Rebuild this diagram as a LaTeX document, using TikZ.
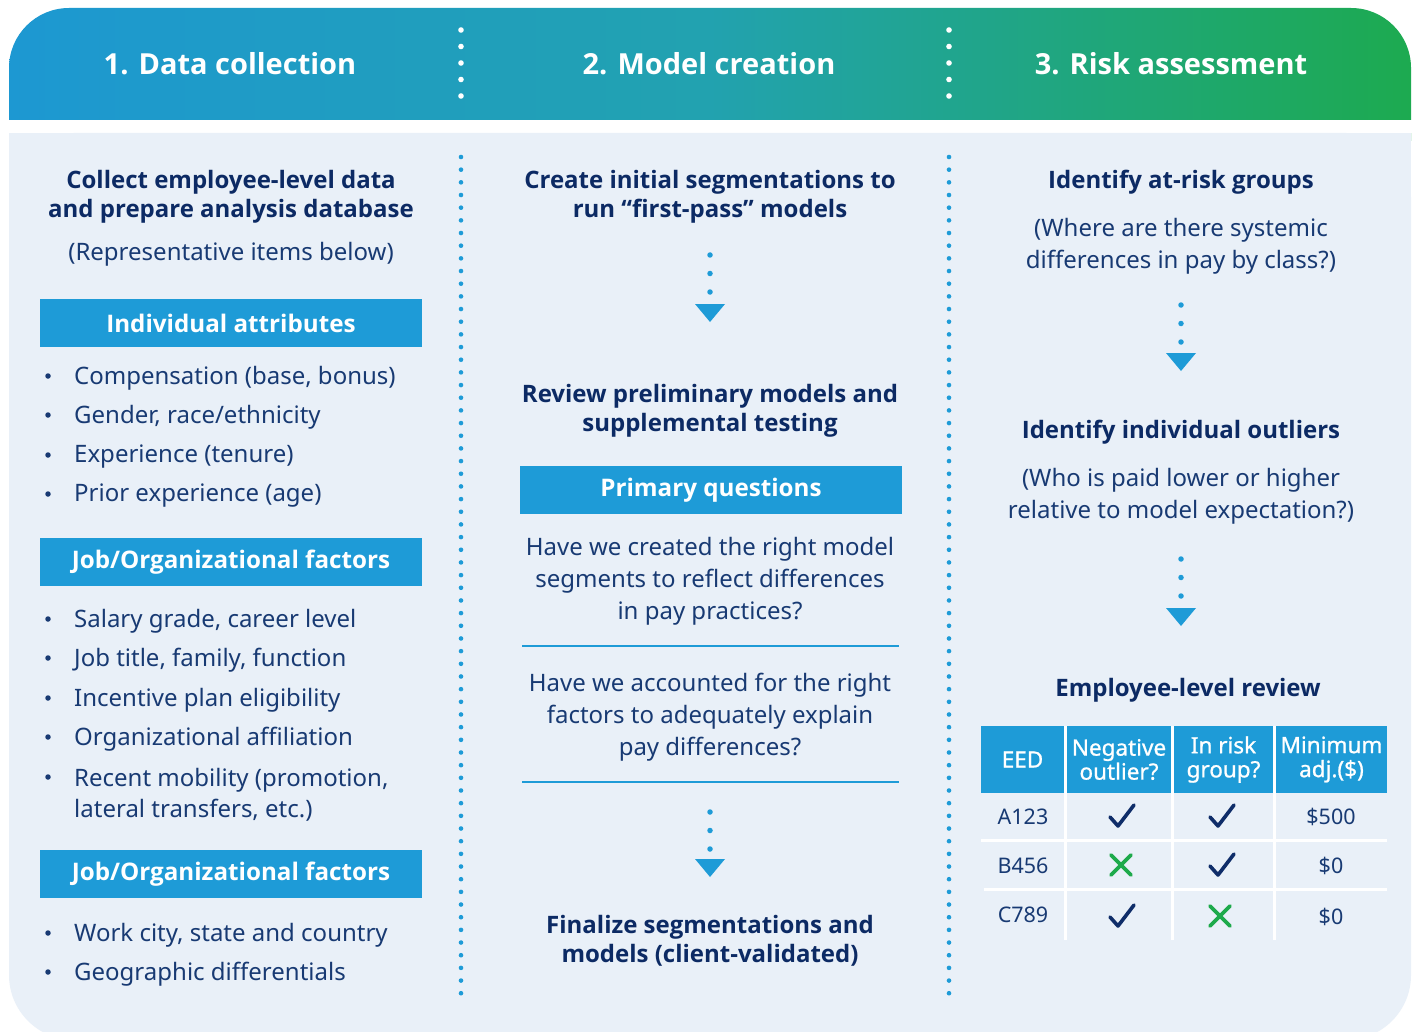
\documentclass[tikz,border=0pt]{standalone}
\usepackage{fontspec}
\setmainfont{Noto Sans}
\newfontfamily\osans{Open Sans}
\newfontfamily\semib[FakeBold=0.9]{Noto Sans}
\usetikzlibrary{arrows.meta,calc}
\definecolor{bg}{RGB}{233,240,248}
\definecolor{boxblue}{RGB}{30,155,215}
\definecolor{navy}{RGB}{12,42,100}
\definecolor{txt}{RGB}{24,58,115}
\definecolor{gblue}{RGB}{29,152,210}
\definecolor{gteal}{RGB}{34,162,175}
\definecolor{ggreen}{RGB}{29,170,80}
\definecolor{xgreen}{RGB}{30,170,75}
\definecolor{chk}{RGB}{15,45,105}
\begin{document}
\begin{tikzpicture}[x=1pt,y=-1pt,
  hdr/.style={text=white,font=\osans\bfseries\fontsize{29}{32}\selectfont,inner sep=0},
  ttl/.style={text=navy,font=\osans\bfseries\fontsize{24}{29}\selectfont,align=center,inner sep=0,yshift=-3pt},
  bodytxt/.style={text=txt,font=\fontsize{24}{32}\selectfont,align=center,inner sep=0,yshift=-3pt},
  itemtxt/.style={text=txt,font=\fontsize{24}{31}\selectfont,align=left,anchor=west,inner sep=0,yshift=-2pt},
  bdot/.style={circle,fill=txt,minimum size=5.5,inner sep=0},
  boxhead/.style={fill=boxblue,text=white,font=\osans\bfseries\fontsize{24.2}{26}\selectfont,minimum width=382,minimum height=48,inner sep=0},
  th/.style={fill=boxblue,text=white,font=\semib\fontsize{22.5}{24}\selectfont,align=center,minimum height=67,inner sep=0},
  td/.style={text=txt,font=\fontsize{21.5}{24}\selectfont,inner sep=0,yshift=-1pt},
  dotarrow/.style={boxblue,line width=5.5,line cap=round,dash pattern=on 0pt off 18.5pt,-{Triangle[width=30pt,length=18pt,line width=0pt,round=false]}},
  sepline/.style={boxblue,line width=2},
  tabline/.style={white,line width=3},
  chkmark/.style={chk,line width=3.6,line cap=round,line join=round},
  xmark/.style={xgreen,line width=3.6,line cap=round}
]
\useasboundingbox (0,0) rectangle (1418,1032);
\clip (0,0) rectangle (1418,1032);
\fill[white] (0,0) rectangle (1418,1032);
% header band
\shade[left color=gblue,right color=ggreen,middle color=gteal,rounded corners=60] (9,8) rectangle (1411,200);
\fill[white] (0,120) rectangle (1418,133);
% body
\fill[bg,rounded corners=65] (9,133) rectangle (1411,1040);
\fill[bg] (9,133) rectangle (1411,260);
% header dots
\foreach \xx in {461,949}{
  \foreach \yy in {30,46.5,63,79.5,96} \fill[white] (\xx,\yy) circle (2.8);
  \foreach \k in {0,...,66} \fill[boxblue] (\xx,157+\k*12.67) circle (2.3);
}
\node[hdr] (h1) at (230,64) {1. Data collection};
\node[hdr] (h2) at (709,64) {2. Model creation};
\node[hdr] (h3) at (1171,64) {3. Risk assessment};

% ---------- column 1
\node[ttl] (c1t) at (231,193.5) {Collect employee-level data\\and prepare analysis database};
\node[bodytxt] (c1s) at (231,251) {(Representative items below)};
\node[boxhead] (ia) at (231,323) {Individual attributes};
\node[bdot] (b11) at (48,376) {}; \node[itemtxt] (i11) at (74,376) {Compensation (base, bonus)};
\node[bdot] (b12) at (48,415) {}; \node[itemtxt] (i12) at (74,415) {Gender, race/ethnicity};
\node[bdot] (b13) at (48,455) {}; \node[itemtxt] (i13) at (74,455) {Experience (tenure)};
\node[bdot] (b14) at (48,494) {}; \node[itemtxt] (i14) at (74,494) {Prior experience (age)};
\node[boxhead] (jo1) at (231,562) {Job/Organizational factors};
\node[bdot] (b21) at (48,619) {}; \node[itemtxt] (i21) at (74,619) {Salary grade, career level};
\node[bdot] (b22) at (48,658) {}; \node[itemtxt] (i22) at (74,658) {Job title, family, function};
\node[bdot] (b23) at (48,698) {}; \node[itemtxt] (i23) at (74,698) {Incentive plan eligibility};
\node[bdot] (b24) at (48,737) {}; \node[itemtxt] (i24) at (74,737) {Organizational affiliation};
\node[bdot] (b25) at (48,777) {}; \node[itemtxt] (i25) at (74,792.5) {Recent mobility (promotion,\\lateral transfers, etc.)};
\node[boxhead] (jo2) at (231,874) {Job/Organizational factors};
\node[bdot] (b31) at (48,933) {}; \node[itemtxt] (i31) at (74,933) {Work city, state and country};
\node[bdot] (b32) at (48,972) {}; \node[itemtxt] (i32) at (74,972) {Geographic differentials};

% ---------- column 2
\node[ttl] (c2t) at (710,193.5) {Create initial segmentations to\\run “first-pass” models};
\coordinate (a1s) at (710,255); \coordinate (a1e) at (710,322);
\draw[dotarrow] (a1s) -- (a1e);
\node[ttl] (c2r) at (710,408) {Review preliminary models and\\supplemental testing};
\node[boxhead] (pq) at (711,490) {Primary questions};
\node[bodytxt] (q1) at (710,578) {Have we created the right model\\segments to reflect differences\\in pay practices?};
\coordinate (l1a) at (522,646); \coordinate (l1b) at (899,646);
\draw[sepline] (l1a) -- (l1b);
\node[bodytxt] (q2) at (710,714) {Have we accounted for the right\\factors to adequately explain\\pay differences?};
\coordinate (l2a) at (522,782); \coordinate (l2b) at (899,782);
\draw[sepline] (l2a) -- (l2b);
\coordinate (a2s) at (710,812); \coordinate (a2e) at (710,877);
\draw[dotarrow] (a2s) -- (a2e);
\node[ttl] (c2f) at (710,937.5) {Finalize segmentations and\\models (client-validated)};

% ---------- column 3
\node[ttl] (c3t) at (1181,179) {Identify at-risk groups};
\node[bodytxt] (c3s) at (1181,243) {(Where are there systemic\\differences in pay by class?)};
\coordinate (a3s) at (1181,305); \coordinate (a3e) at (1181,371);
\draw[dotarrow] (a3s) -- (a3e);
\node[ttl] (c3o) at (1181,429) {Identify individual outliers};
\node[bodytxt] (c3os) at (1181,493.5) {(Who is paid lower or higher\\relative to model expectation?)};
\coordinate (a4s) at (1181,559); \coordinate (a4e) at (1181,626);
\draw[dotarrow] (a4s) -- (a4e);
\node[ttl] (c3e) at (1188,687) {Employee-level review};

% table
\node[th,minimum width=83] (t1) at (1022.5,759.5) {EED};
\node[th,minimum width=104] (t2) at (1119,759.5) {Negative\\outlier?};
\node[th,minimum width=99] (t3) at (1223.5,759.5) {In risk\\group?};
\node[th,minimum width=111] (t4) at (1331.5,759.5) {Minimum\\adj.(\$)};
\coordinate (v1a) at (1065.5,726); \coordinate (v1b) at (1065.5,940);
\coordinate (v2a) at (1172.5,726); \coordinate (v2b) at (1172.5,940);
\coordinate (v3a) at (1274.5,726); \coordinate (v3b) at (1274.5,940);
\draw[tabline] (v1a) -- (v1b); \draw[tabline] (v2a) -- (v2b); \draw[tabline] (v3a) -- (v3b);
\coordinate (r1a) at (981,840); \coordinate (r1b) at (1387,840);
\coordinate (r2a) at (984,889); \coordinate (r2b) at (1387,889);
\draw[tabline] (r1a) -- (r1b); \draw[tabline] (r2a) -- (r2b);
\node[td] (d11) at (1023,816) {A123};
\node[td] (d21) at (1023,864.5) {B456};
\node[td] (d31) at (1023,914) {C789};
\node[td] (d14) at (1331,816) {\$500};
\node[td] (d24) at (1331,864.5) {\$0};
\node[td] (d34) at (1331,916) {\$0};
% marks
\newcommand\mychk[2]{\draw[chkmark] (#1-10,#2+1) -- (#1-2,#2+10) -- (#1+14,#2-11);}
\newcommand\myx[2]{\draw[xmark] (#1-10,#2-10) -- (#1+10,#2+10); \draw[xmark] (#1-10,#2+10) -- (#1+10,#2-10);}
\mychk{1120}{816}
\mychk{1220}{816}
\myx{1121}{865}
\mychk{1220}{865}
\mychk{1120}{916}
\myx{1220}{916}
\end{tikzpicture}
\end{document}
